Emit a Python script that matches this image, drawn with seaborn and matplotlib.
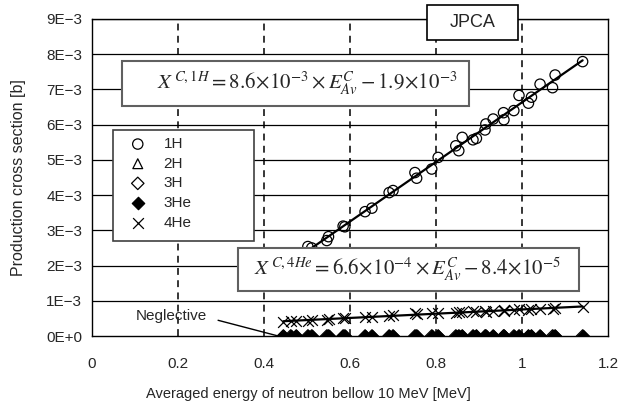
import numpy as np
import pandas as pd
import matplotlib
matplotlib.use("Agg")
import matplotlib.pyplot as plt
from matplotlib.patches import Rectangle
import seaborn as sns

# ---- data ----
energy = [0.445, 0.462, 0.475, 0.502, 0.511, 0.546, 0.550, 0.584, 0.588, 0.635,
          0.651, 0.691, 0.700, 0.751, 0.755, 0.790, 0.805, 0.846, 0.853, 0.861,
          0.886, 0.894, 0.914, 0.916, 0.933, 0.957, 0.958, 0.981, 0.993, 1.015,
          1.022, 1.042, 1.071, 1.077, 1.141]
xs_1H = [1.93e-3, 2.08e-3, 2.20e-3, 2.54e-3, 2.50e-3, 2.71e-3, 2.82e-3, 3.12e-3, 3.10e-3, 3.53e-3,
         3.63e-3, 4.07e-3, 4.13e-3, 4.64e-3, 4.48e-3, 4.74e-3, 5.07e-3, 5.40e-3, 5.26e-3, 5.64e-3,
         5.57e-3, 5.61e-3, 5.85e-3, 6.02e-3, 6.16e-3, 6.34e-3, 6.14e-3, 6.40e-3, 6.83e-3, 6.61e-3,
         6.78e-3, 7.15e-3, 7.05e-3, 7.41e-3, 7.79e-3]
xs_4He = [0.40e-3, 0.42e-3, 0.43e-3, 0.44e-3, 0.45e-3, 0.46e-3, 0.47e-3, 0.50e-3, 0.52e-3, 0.53e-3,
          0.55e-3, 0.58e-3, 0.60e-3, 0.64e-3, 0.62e-3, 0.64e-3, 0.66e-3, 0.65e-3, 0.68e-3, 0.67e-3,
          0.70e-3, 0.68e-3, 0.71e-3, 0.69e-3, 0.72e-3, 0.72e-3, 0.74e-3, 0.74e-3, 0.76e-3, 0.75e-3,
          0.77e-3, 0.78e-3, 0.77e-3, 0.79e-3, 0.81e-3]
xs_2H = [0.0] * len(energy)
xs_3H = [0.0] * len(energy)
xs_3He = [0.0] * len(energy)

x_ticks = [0, 0.2, 0.4, 0.6, 0.8, 1.0, 1.2]
x_tick_labels = ["0", "0.2", "0.4", "0.6", "0.8", "1", "1.2"]
y_ticks = [0, 1e-3, 2e-3, 3e-3, 4e-3, 5e-3, 6e-3, 7e-3, 8e-3, 9e-3]
y_tick_labels = ["0E+0", "1E\u22123", "2E\u22123", "3E\u22123", "4E\u22123",
                 "5E\u22123", "6E\u22123", "7E\u22123", "8E\u22123", "9E\u22123"]

eq_1H = r"$X^{\,C,1H}=8.6\!\times\!10^{-3}\times E_{Av}^{C}-1.9\!\times\!10^{-3}$"
eq_4He = r"$X^{\,C,4He}=6.6\!\times\!10^{-4}\times E_{Av}^{C}-8.4\!\times\!10^{-5}$"

df = pd.DataFrame({"E": energy, "1H": xs_1H, "2H": xs_2H, "3H": xs_3H,
                   "3He": xs_3He, "4He": xs_4He})

# ---- style ----
sns.set_style("white")
plt.rcParams["font.family"] = ["Liberation Sans", "DejaVu Sans"]
plt.rcParams["mathtext.fontset"] = "stix"

fig = plt.figure(figsize=(6.22, 4.08), dpi=100)
ax = fig.add_axes([92 / 622, 1 - 336 / 408, 516 / 622, 317 / 408])

ax.set_xlim(0, 1.2)
ax.set_ylim(0, 9e-3)

# grid
for yv in y_ticks[1:]:
    ax.axhline(yv, color="black", lw=0.9, zorder=1)
for xv in x_ticks[1:-1]:
    ax.axvline(xv, color="black", lw=1.1, ls=(0, (4.5, 3.5)), zorder=1)

# fit lines
p1 = np.polyfit(df["E"], df["1H"], 1)
p4 = np.polyfit(df["E"], df["4He"], 1)
xfit = np.array([min(energy), max(energy)])
sns.lineplot(x=xfit, y=np.polyval(p1, xfit), color="black", lw=1.6, ax=ax, zorder=3)
sns.lineplot(x=xfit, y=np.polyval(p4, xfit), color="black", lw=1.6, ax=ax, zorder=3)

# scatter series
sns.scatterplot(data=df, x="E", y="1H", marker="o", s=55, facecolor="none",
                edgecolor="black", linewidth=0.9, label="1H", ax=ax, zorder=4)
sns.scatterplot(data=df, x="E", y="2H", marker="^", s=50, facecolor="none",
                edgecolor="black", linewidth=0.9, label="2H", ax=ax, zorder=4)
sns.scatterplot(data=df, x="E", y="3H", marker="D", s=40, facecolor="none",
                edgecolor="black", linewidth=0.9, label="3H", ax=ax, zorder=4)
sns.scatterplot(data=df, x="E", y="3He", marker="D", s=40, color="black",
                edgecolor="black", linewidth=0.9, label="3He", ax=ax, zorder=4)
sns.scatterplot(data=df, x="E", y="4He", marker="x", s=60, color="black",
                linewidth=0.9, label="4He", ax=ax, zorder=4)

# axes styling
ax.set_xticks(x_ticks)
ax.set_xticklabels(x_tick_labels, fontsize=11)
ax.set_yticks(y_ticks)
ax.set_yticklabels(y_tick_labels, fontsize=11)
ax.tick_params(axis="both", direction="out", length=3, width=0.8, color="black", pad=4)
ax.tick_params(axis="x", pad=12)
for s in ax.spines.values():
    s.set_color("black")
    s.set_linewidth(1.0)
ax.set_xlabel("Averaged energy of neutron bellow 10 MeV [MeV]", fontsize=10.5, va="center")
ax.xaxis.set_label_coords(0.419, -0.183)
ax.set_ylabel("Production cross section [b]", fontsize=11.5)
ax.yaxis.set_label_coords(-0.127, 0.5)

# legend (frame drawn as a separate box)
ax.add_patch(Rectangle((0.0407, 0.2997), 0.2733, 0.3503, transform=ax.transAxes,
                       facecolor="white", edgecolor="#404040", linewidth=1.2,
                       zorder=5))
leg = ax.legend(loc="upper left", bbox_to_anchor=(0.065, 0.642), borderaxespad=0,
                frameon=False, fontsize=11, labelspacing=0.37,
                handlelength=1.0, handletextpad=1.2, borderpad=0.3)
leg.set_zorder(6)

# equation boxes
box_kw = dict(transform=ax.transAxes, facecolor="white", edgecolor="#606060",
              linewidth=1.5, clip_on=False, zorder=5)
ax.add_patch(Rectangle((0.0581, 0.7256), 0.6725, 0.1419, **box_kw))
ax.text(0.4167, 0.7965, eq_1H, transform=ax.transAxes, ha="center", va="center",
        fontsize=15, zorder=6)
ax.add_patch(Rectangle((0.283, 0.142), 0.661, 0.1356, **box_kw))
ax.text(0.6124, 0.2098, eq_4He, transform=ax.transAxes, ha="center", va="center",
        fontsize=15, zorder=6)

# JPCA box
ax.add_patch(Rectangle((0.649, 0.934), 0.1766, 0.110, transform=ax.transAxes,
                       facecolor="white", edgecolor="black", linewidth=1.2,
                       clip_on=False, zorder=5))
ax.text(0.7374, 0.989, "JPCA", transform=ax.transAxes, ha="center", va="center",
        fontsize=13, zorder=6)

# Neglective annotation
ax.annotate("Neglective", xy=(0.433, 0.0), xytext=(0.184, 0.57e-3),
            ha="center", va="center", fontsize=11,
            arrowprops=dict(arrowstyle="-", color="black", lw=1.0,
                            shrinkA=6, shrinkB=0, relpos=(1.0, 0.4)),
            zorder=6)

fig.savefig("out.png", dpi=100)
